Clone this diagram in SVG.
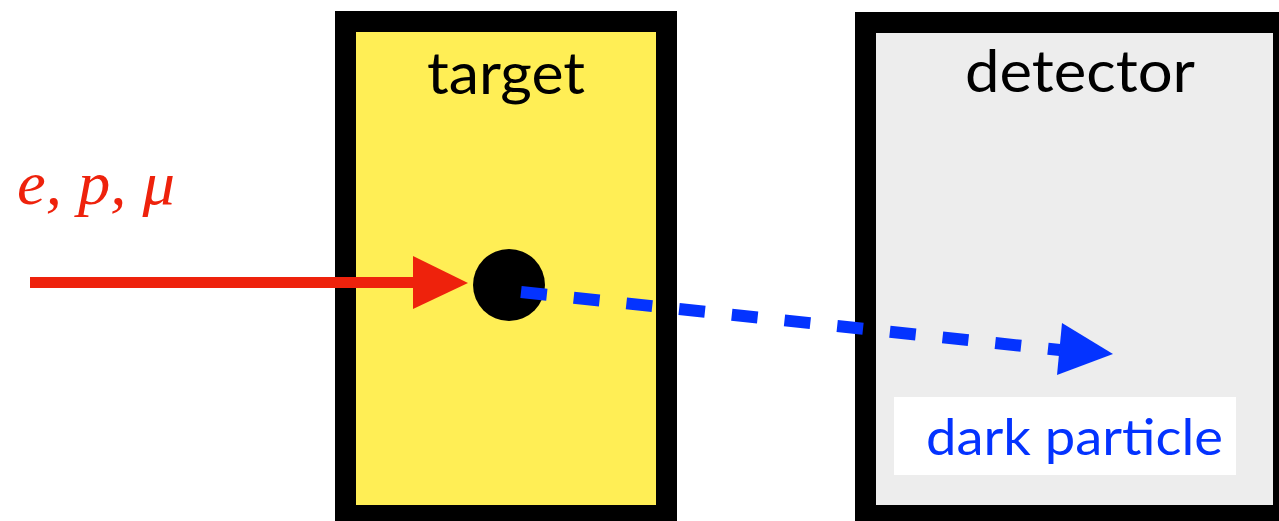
<svg xmlns="http://www.w3.org/2000/svg" width="1279" height="521" viewBox="0 0 1279 521">
<style>
.box{stroke:#000;stroke-width:21}
.lbl{font-family:Lato,"Open Sans","Liberation Sans",sans-serif;font-size:58px;fill:#000}
.dp{font-family:Lato,"Open Sans","Liberation Sans",sans-serif;font-size:50px;fill:#0433FF}
.beam{font-family:"Liberation Serif","DejaVu Serif",serif;font-style:italic;font-size:62px;fill:#EE220C}
</style>
<rect width="1279" height="521" fill="#fff"/>
<g id="target">
<rect class="box" x="345.5" y="21.5" width="321" height="494" fill="#FFEE55"/>
<text class="lbl" x="427" y="94" textLength="158" lengthAdjust="spacingAndGlyphs">target</text>
</g>
<g id="detector">
<rect class="box" x="865.5" y="22.5" width="418" height="493" fill="#EDEDED"/>
<text class="lbl" x="965" y="92" textLength="230" lengthAdjust="spacingAndGlyphs">detector</text>
</g>
<g id="beam-label">
<text class="beam" x="17" y="204" textLength="158" lengthAdjust="spacingAndGlyphs">e, p, μ</text>
</g>
<g id="connectors">
<line x1="30" y1="282.5" x2="414" y2="282.5" stroke="#EE220C" stroke-width="11"/>
<polygon points="413,256 468,283 413,309" fill="#EE220C"/>
</g>
<g id="vertex">
<circle cx="509" cy="285" r="36" fill="#000"/>
</g>
<g id="connectors-dark">
<line x1="521" y1="292" x2="1060" y2="350" stroke="#0433FF" stroke-width="12" stroke-dasharray="26 27"/>
<polygon points="1062,323 1113,354 1057,375" fill="#0433FF"/>
</g>
<g id="dark-label">
<rect x="894" y="397" width="342" height="78" fill="#fff"/>
<text class="dp" x="926" y="455" textLength="297" lengthAdjust="spacingAndGlyphs">dark particle</text>
</g>
</svg>
